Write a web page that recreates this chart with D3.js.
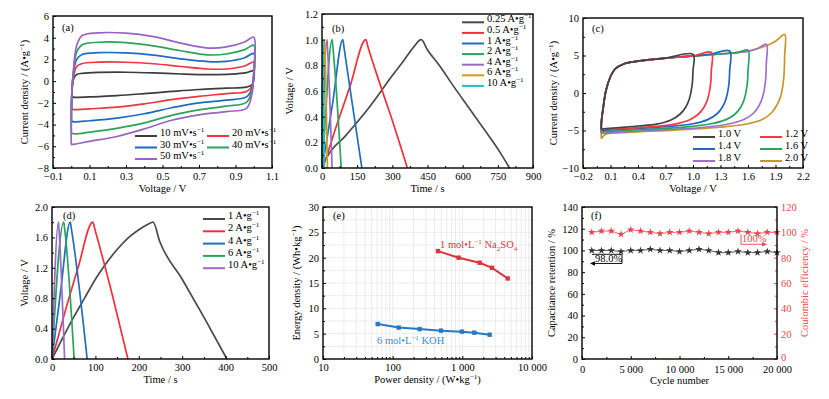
<!DOCTYPE html>
<html>
<head>
<meta charset="utf-8">
<script src="https://cdn.jsdelivr.net/npm/d3@7"></script>
<style>
  body { margin: 0; background: #fff; }
  svg, svg text { font-family: "Liberation Serif", "DejaVu Serif", serif; }
</style>
</head>
<body>
<script>
// ---- data: (a) CV of electrode at different scan rates, [V, A/g] loops
var rateNamesA = ["10", "20", "30", "40", "50"];
var cvA10 = [[0.005,-1.45],[0.005,-0.6],[0.015,0.3],[0.03,0.62],[0.06,0.72],[0.15,0.8],[0.3,0.82],[0.45,0.76],[0.6,0.66],[0.75,0.6],[0.88,0.64],[0.96,0.78],[1.0,0.95],[1.0,0.2],[0.99,-0.35],[0.96,-0.55],[0.85,-0.65],[0.7,-0.77],[0.55,-0.95],[0.4,-1.15],[0.25,-1.33],[0.1,-1.45],[0.02,-1.5],[0.005,-1.45]];
var cvA20 = [[0.003,-2.6],[0.003,-1.2],[0.012,0.4],[0.03,1.35],[0.06,1.62],[0.15,1.75],[0.3,1.74],[0.45,1.6],[0.6,1.35],[0.75,1.12],[0.85,1.12],[0.95,1.4],[1.0,1.75],[1.0,0.4],[0.99,-0.5],[0.96,-0.95],[0.85,-1.15],[0.7,-1.4],[0.55,-1.7],[0.4,-2.1],[0.25,-2.4],[0.1,-2.55],[0.02,-2.62],[0.003,-2.6]];
var cvA30 = [[0.002,-3.7],[0.002,-1.8],[0.01,0.5],[0.03,2.0],[0.06,2.45],[0.15,2.62],[0.3,2.6],[0.45,2.4],[0.6,2.05],[0.75,1.8],[0.85,1.82],[0.95,2.15],[1.0,2.55],[1.0,0.6],[0.99,-0.7],[0.96,-1.45],[0.85,-1.75],[0.7,-2.0],[0.55,-2.45],[0.4,-3.0],[0.25,-3.4],[0.1,-3.65],[0.02,-3.75],[0.002,-3.7]];
var cvA40 = [[0.001,-4.8],[0.001,-2.2],[0.01,0.5],[0.03,2.7],[0.06,3.35],[0.15,3.58],[0.3,3.55],[0.45,3.25],[0.6,2.8],[0.75,2.42],[0.85,2.5],[0.95,2.9],[1.0,3.3],[1.0,0.8],[0.99,-0.9],[0.96,-1.95],[0.85,-2.3],[0.7,-2.65],[0.55,-3.15],[0.4,-3.85],[0.25,-4.35],[0.1,-4.7],[0.02,-4.85],[0.001,-4.8]];
var cvA50 = [[0,-5.85],[0,-2.5],[0.01,0.5],[0.03,3.3],[0.06,4.2],[0.15,4.45],[0.3,4.42],[0.45,4.1],[0.6,3.5],[0.75,3.05],[0.85,3.15],[0.95,3.6],[1.0,4.05],[1.0,1.0],[0.99,-1.2],[0.96,-2.5],[0.85,-2.8],[0.7,-3.1],[0.55,-3.6],[0.4,-4.4],[0.25,-5.1],[0.1,-5.55],[0.02,-5.8],[0,-5.85]];

// ---- (b) GCD of electrode, [s, V]
var currentNamesB = ["0.25", "0.5", "1", "2", "4", "6", "10"];
var gcdB025 = [[0,0],[20,0.08],[100,0.25],[200,0.47],[300,0.72],[350,0.84],[390,0.94],[423,1.0],[450,0.92],[500,0.8],[560,0.64],[630,0.46],[700,0.28],[760,0.12],[800,0]];
var gcdB05 = [[0,0],[5,0.02],[60,0.32],[120,0.64],[187,1.0],[195,0.95],[250,0.64],[300,0.37],[364,0]];
var gcdB1 = [[0,0],[2,0.02],[45,0.5],[89,1.0],[93,0.95],[130,0.49],[170,0]];
var gcdB2 = [[0,0],[1,0.02],[43,1.0],[46,0.95],[82,0]];
var gcdB4 = [[0,0],[21,1.0],[23,0.95],[43,0]];
var gcdB6 = [[0,0],[10,1.0],[12,0.95],[23,0]];
var gcdB10 = [[0,0],[4,1.0],[5,0.95],[10,0]];

// ---- (c) CV of device at different voltage windows
var windowNamesC = ["1.0", "1.2", "1.4", "1.6", "1.8", "2.0"];
var cvC10 = [[0,-4.8],[0,-4.0],[0.02,-2.0],[0.05,0.3],[0.1,2.2],[0.15,3.2],[0.25,3.9],[0.4,4.25],[0.7,4.65],[1.0,5.15],[1.0,3.0],[0.99,1.0],[0.96,-0.8],[0.92,-1.9],[0.86,-2.8],[0.76,-3.6],[0.6,-4.15],[0.4,-4.4],[0.2,-4.6],[0.05,-4.75],[0,-4.8]];
var cvC12 = [[0,-4.9],[0,-4.0],[0.02,-2.0],[0.05,0.3],[0.1,2.2],[0.15,3.2],[0.25,3.9],[0.4,4.25],[0.7,4.65],[1.0,4.95],[1.2,5.4],[1.2,3.0],[1.19,1.0],[1.16,-0.8],[1.12,-1.9],[1.06,-2.8],[0.96,-3.6],[0.8,-4.15],[0.6,-4.45],[0.3,-4.7],[0.05,-4.85],[0,-4.9]];
var cvC14 = [[0,-5.0],[0,-4.0],[0.02,-2.0],[0.05,0.3],[0.1,2.2],[0.15,3.2],[0.25,3.9],[0.4,4.25],[0.7,4.65],[1.0,4.95],[1.2,5.2],[1.4,5.6],[1.4,3.0],[1.39,1.0],[1.36,-0.8],[1.32,-1.9],[1.26,-2.8],[1.16,-3.55],[1.0,-4.1],[0.7,-4.5],[0.35,-4.75],[0.05,-4.95],[0,-5.0]];
var cvC16 = [[0,-5.2],[0,-4.0],[0.02,-2.0],[0.05,0.3],[0.1,2.2],[0.15,3.2],[0.25,3.9],[0.4,4.25],[0.7,4.65],[1.0,4.95],[1.3,5.2],[1.5,5.45],[1.6,5.7],[1.6,3.0],[1.59,1.0],[1.56,-0.8],[1.52,-1.9],[1.46,-2.8],[1.36,-3.55],[1.2,-4.1],[0.9,-4.55],[0.5,-4.85],[0.05,-5.15],[0,-5.2]];
var cvC18 = [[0,-5.4],[0,-4.0],[0.02,-2.0],[0.05,0.3],[0.1,2.2],[0.15,3.2],[0.25,3.9],[0.4,4.25],[0.7,4.65],[1.0,4.95],[1.3,5.2],[1.6,5.55],[1.7,5.9],[1.8,6.5],[1.8,4.0],[1.79,1.5],[1.76,-0.5],[1.72,-1.7],[1.66,-2.7],[1.56,-3.5],[1.4,-4.1],[1.1,-4.6],[0.6,-4.95],[0.05,-5.35],[0,-5.4]];
var cvC20 = [[0,-6.1],[0,-4.0],[0.02,-2.0],[0.05,0.3],[0.1,2.2],[0.15,3.2],[0.25,3.9],[0.4,4.25],[0.7,4.65],[1.0,4.95],[1.3,5.2],[1.6,5.6],[1.8,6.3],[1.9,6.9],[2.0,7.8],[2.0,5.0],[1.99,2.0],[1.96,-0.3],[1.92,-1.5],[1.86,-2.6],[1.76,-3.5],[1.6,-4.1],[1.3,-4.55],[0.8,-4.95],[0.3,-5.25],[0.05,-5.5],[0,-6.1]];

// ---- (d) GCD of device, [s, V]
var currentNamesD = ["1", "2", "4", "6", "10"];
var gcdD1 = [[0,0],[25,0.28],[50,0.55],[75,0.8],[100,1.05],[125,1.26],[150,1.44],[175,1.59],[200,1.7],[220,1.77],[233,1.8],[248,1.55],[300,1.05],[350,0.55],[403,0]];
var gcdD2 = [[0,0],[30,0.62],[60,1.2],[94,1.8],[100,1.68],[140,0.82],[175,0]];
var gcdD4 = [[0,0],[20,0.9],[42,1.8],[45,1.7],[81,0]];
var gcdD6 = [[0,0],[27,1.8],[29,1.72],[51,0]];
var gcdD10 = [[0,0],[15,1.8],[16,1.72],[29,0]];

// ---- (e) Ragone plot, power W/kg vs energy Wh/kg
var powerNa = [447, 885, 1774, 2666, 4478];
var energyNa = [21.3, 20.0, 19.0, 18.0, 15.9];
var powerKOH = [61, 122, 244, 494, 989, 1486, 2466];
var energyKOH = [6.9, 6.2, 5.9, 5.6, 5.4, 5.2, 4.8];

// ---- (f) cycling
var cycles = [1000,2000,3000,4000,5000,6000,7000,8000,9000,10000,11000,12000,13000,14000,15000,16000,17000,18000,19000,20000];
var retention = [100,100,100,99,100,100,101,100,100,99,100,101,100,98,98,99,98,98,99,98];
var coulombic = [100,101,101,98.5,102,101,100,99,100,100,101,100,99,100,100,101,100,99,100,100];

var FS = 10.5;
var FONT = "'Liberation Serif', 'DejaVu Serif', serif";
var svg = d3.select("body").append("svg")
    .attr("width", 829)
    .attr("height", 399)
    .attr("font-family", FONT);

// superscript / subscript aware text
function rich(t, parts, fs) {
  var shift = 0;
  t.attr("font-family", FONT);
  parts.forEach(function(p) {
    var s = p[0], k = p[1];
    var target = k === "sup" ? -0.38 * fs : (k === "sub" ? 0.25 * fs : 0);
    t.append("tspan")
        .attr("dy", target - shift)
        .attr("font-size", k ? fs * 0.68 : fs)
        .text(s);
    shift = target;
  });
  return t;
}

function styleAxis(sel) {
  sel.select(".domain").remove();
  sel.attr("font-family", FONT).attr("font-size", FS);
  sel.selectAll("line").attr("stroke", "#000");
  sel.selectAll("text").attr("fill", "#000");
}

function xAxis(g, x, y0, ticks, fmt, minor, pad) {
  g.append("g")
      .attr("transform", `translate(0,${y0})`)
      .call(d3.axisBottom(x).tickValues(ticks).tickFormat(fmt)
          .tickSizeInner(-3).tickSizeOuter(0).tickPadding(pad || 5))
      .call(styleAxis);
  if (minor) {
    g.append("g")
        .attr("transform", `translate(0,${y0})`)
        .call(d3.axisBottom(x).tickValues(minor).tickFormat("")
            .tickSizeInner(-2).tickSizeOuter(0))
        .call(styleAxis);
  }
}

function yAxis(g, y, x0, ticks, fmt, minor, right, color) {
  var ax = right ? d3.axisRight(y) : d3.axisLeft(y);
  var a = g.append("g")
      .attr("transform", `translate(${x0},0)`)
      .call(ax.tickValues(ticks).tickFormat(fmt)
          .tickSizeInner(-3).tickSizeOuter(0).tickPadding(4))
      .call(styleAxis);
  if (color) {
    a.selectAll("line").attr("stroke", color);
    a.selectAll("text").attr("fill", color);
  }
  if (minor) {
    var ax2 = right ? d3.axisRight(y) : d3.axisLeft(y);
    var m = g.append("g")
        .attr("transform", `translate(${x0},0)`)
        .call(ax2.tickValues(minor).tickFormat("")
            .tickSizeInner(-2).tickSizeOuter(0))
        .call(styleAxis);
    if (color) m.selectAll("line").attr("stroke", color);
  }
  return a;
}

function frame(g, x, y) {
  var r = x.range(), s = y.range();
  g.append("rect")
      .attr("x", r[0]).attr("y", s[1])
      .attr("width", r[1] - r[0]).attr("height", s[0] - s[1])
      .attr("fill", "none")
      .attr("stroke", "#000")
      .attr("stroke-width", 1.4);
}

function yTitle(g, cx, cy, parts, color) {
  var t = g.append("text")
      .attr("transform", `translate(${cx},${cy}) rotate(-90)`)
      .attr("text-anchor", "middle")
      .attr("dy", "0.35em")
      .attr("font-size", FS)
      .attr("fill", color || "#000");
  rich(t, parts, FS);
}

function xTitle(g, cx, cy, parts) {
  var t = g.append("text")
      .attr("x", cx).attr("y", cy)
      .attr("text-anchor", "middle")
      .attr("font-size", FS);
  rich(t, parts, FS);
}

function panelLabel(g, x, y, s) {
  g.append("text").attr("x", x).attr("y", y)
      .attr("font-family", FONT)
      .attr("font-size", 10.5).text(s);
}

function curves(g, x, y, series, colors, curve) {
  var line = d3.line()
      .x(function(d) { return x(d[0]); })
      .y(function(d) { return y(d[1]); })
      .curve(curve || d3.curveLinear);
  g.selectAll(null)
      .data(series)
      .enter().append("path")
          .attr("d", line)
          .attr("fill", "none")
          .attr("stroke", function(d, i) { return colors[i]; })
          .attr("stroke-width", 1.7)
          .attr("stroke-linejoin", "round");
}

// legend: items [{parts, color}], positions of each row/col given
function legend(g, items, pos, lineLen) {
  items.forEach(function(it, i) {
    var p = pos[i];
    g.append("line")
        .attr("x1", p[0]).attr("x2", p[0] + lineLen)
        .attr("y1", p[1]).attr("y2", p[1])
        .attr("stroke", it.color).attr("stroke-width", 2);
    var t = g.append("text")
        .attr("x", p[0] + lineLen + 3).attr("y", p[1])
        .attr("dy", "0.35em")
        .attr("font-size", 10.5);
    rich(t, it.parts, 10.5);
  });
}

var fmt1 = d3.format(".1f");
var fmtD = d3.format("d");
var thousands = function(d) {
  return d >= 1000 ? (d / 1000) + " 000" : String(d);
};
var cvCurve = d3.curveCatmullRom.alpha(0.5);

// ===================== (a) =====================
var colA = ["#3d3d3d", "#ee3540", "#1f6bbf", "#2ba35a", "#9a62c4"];
var xA = d3.scaleLinear().domain([-0.1, 1.1]).range([53, 272]);
var yA = d3.scaleLinear().domain([-8, 6]).range([168, 16]);
var gA = svg.append("g");
curves(gA, xA, yA, [cvA10, cvA20, cvA30, cvA40, cvA50], colA, cvCurve);
xAxis(gA, xA, 168, d3.range(-0.1, 1.15, 0.2), fmt1, d3.range(0, 1.05, 0.2));
yAxis(gA, yA, 53, d3.range(-8, 7, 2), fmtD, d3.range(-7, 6, 2));
frame(gA, xA, yA);
panelLabel(gA, 62, 31, "(a)");
yTitle(gA, 28, 92, [["Current density / (A•g"], ["−1", "sup"], [")"]]);
xTitle(gA, 162.5, 192, [["Voltage / V"]]);
legend(gA, rateNamesA.map(function(r, i) {
  return {color: colA[i], parts: [[r + " mV•s"], ["−1", "sup"]]};
}), [[135, 136], [207, 136], [135, 147.5], [207, 147.5], [135, 159]], 22);

// ===================== (b) =====================
var colB = ["#4a4a4a", "#f0303a", "#1f6fbf", "#2ca25f", "#9b6bc6", "#d49a1c", "#1fc0c4"];
var xB = d3.scaleLinear().domain([0, 900]).range([322, 533]);
var yB = d3.scaleLinear().domain([0, 1.2]).range([168, 14]);
var gB = svg.append("g");
curves(gB, xB, yB, [gcdB025, gcdB05, gcdB1, gcdB2, gcdB4, gcdB6, gcdB10], colB, d3.curveMonotoneX);
xAxis(gB, xB, 168, d3.range(0, 901, 150), fmtD, d3.range(75, 900, 150));
yAxis(gB, yB, 322, d3.range(0, 1.25, 0.2), fmt1, d3.range(0.1, 1.2, 0.2));
frame(gB, xB, yB);
panelLabel(gB, 332, 32, "(b)");
yTitle(gB, 293, 91, [["Voltage / V"]]);
xTitle(gB, 427.5, 192, [["Time / s"]]);
legend(gB, currentNamesB.map(function(r, i) {
  return {color: colB[i], parts: [[r + " A•g"], ["−1", "sup"]]};
}), currentNamesB.map(function(r, i) { return [462, 22.3 + 10.6 * i]; }), 22);

// ===================== (c) =====================
var colC = ["#444444", "#f03a45", "#1f68c0", "#2aa45c", "#a070d0", "#c8962a"];
var xC = d3.scaleLinear().domain([-0.2, 2.2]).range([583, 803]);
var yC = d3.scaleLinear().domain([-10, 10]).range([168, 18]);
var gC = svg.append("g");
curves(gC, xC, yC, [cvC20, cvC18, cvC16, cvC14, cvC12, cvC10],
    [colC[5], colC[4], colC[3], colC[2], colC[1], colC[0]], cvCurve);
xAxis(gC, xC, 168, [-0.2, 0.1, 0.4, 0.7, 1.0, 1.3, 1.6, 1.9, 2.2], fmt1,
    [-0.05, 0.25, 0.55, 0.85, 1.15, 1.45, 1.75, 2.05]);
yAxis(gC, yC, 583, [-10, -5, 0, 5, 10], fmtD, [-7.5, -2.5, 2.5, 7.5]);
frame(gC, xC, yC);
panelLabel(gC, 592, 32, "(c)");
yTitle(gC, 557, 93, [["Current density / (A•g"], ["−1", "sup"], [")"]]);
xTitle(gC, 693, 192, [["Voltage / V"]]);
legend(gC, windowNamesC.map(function(r, i) {
  return {color: colC[i], parts: [[r + " V"]]};
}), [[693, 137], [760, 137], [693, 149], [760, 149], [693, 161], [760, 161]], 22);

// ===================== (d) =====================
var colD = ["#4a4a4a", "#f0303a", "#1f6fbf", "#2ca25f", "#9b6bc6"];
var xD = d3.scaleLinear().domain([0, 500]).range([52, 269]);
var yD = d3.scaleLinear().domain([0, 2.0]).range([359, 207]);
var gD = svg.append("g");
curves(gD, xD, yD, [gcdD1, gcdD2, gcdD4, gcdD6, gcdD10], colD, d3.curveMonotoneX);
xAxis(gD, xD, 359, d3.range(0, 501, 100), fmtD, d3.range(50, 500, 100));
yAxis(gD, yD, 52, d3.range(0, 2.01, 0.4), fmt1, d3.range(0.2, 2.0, 0.4));
frame(gD, xD, yD);
panelLabel(gD, 63, 219, "(d)");
yTitle(gD, 28, 283, [["Voltage / V"]]);
xTitle(gD, 160.5, 383, [["Time / s"]]);
legend(gD, currentNamesD.map(function(r, i) {
  return {color: colD[i], parts: [[r + " A•g"], ["−1", "sup"]]};
}), currentNamesD.map(function(r, i) { return [203, 219 + 12.3 * i]; }), 22);

// ===================== (e) =====================
var xE = d3.scaleLog().domain([10, 10000]).range([323, 532]);
var yE = d3.scaleLinear().domain([0, 30]).range([359, 207]);
var gE = svg.append("g");
var minorE = [];
[10, 100, 1000].forEach(function(dec) {
  for (var k = 2; k <= 9; k++) minorE.push(dec * k);
});
gE.selectAll(null).data(minorE.concat([100, 1000])).enter().append("line")
    .attr("x1", function(d) { return xE(d); }).attr("x2", function(d) { return xE(d); })
    .attr("y1", 207).attr("y2", 359)
    .attr("stroke", "#e4e4e4").attr("stroke-width", 0.7);
gE.selectAll(null).data(d3.range(2.5, 30, 2.5)).enter().append("line")
    .attr("x1", 323).attr("x2", 532)
    .attr("y1", function(d) { return yE(d); }).attr("y2", function(d) { return yE(d); })
    .attr("stroke", "#e4e4e4").attr("stroke-width", 0.7);
xAxis(gE, xE, 359, [10, 100, 1000, 10000], thousands, minorE);
yAxis(gE, yE, 323, d3.range(0, 31, 5), fmtD, d3.range(2.5, 30, 5));
var ragone = [
  {power: powerNa, energy: energyNa, color: "#d9363e"},
  {power: powerKOH, energy: energyKOH, color: "#2a78c0"}
];
ragone.forEach(function(s) {
  var pts = s.power.map(function(p, i) { return [p, s.energy[i]]; });
  gE.append("path")
      .attr("d", d3.line().x(function(d) { return xE(d[0]); }).y(function(d) { return yE(d[1]); })(pts))
      .attr("fill", "none").attr("stroke", s.color).attr("stroke-width", 2);
  gE.selectAll(null).data(pts).enter().append("rect")
      .attr("x", function(d) { return xE(d[0]) - 2.2; })
      .attr("y", function(d) { return yE(d[1]) - 2.2; })
      .attr("width", 4.4).attr("height", 4.4)
      .attr("fill", s.color);
});
frame(gE, xE, yE);
panelLabel(gE, 333, 219, "(e)");
rich(gE.append("text").attr("x", 440).attr("y", 248).attr("font-size", 10.5).attr("fill", "#d9363e"),
    [["1 mol•L"], ["−1", "sup"], [" Na"], ["2", "sub"], ["SO"], ["4", "sub"]], 10.5);
rich(gE.append("text").attr("x", 377).attr("y", 344).attr("font-size", 10.5).attr("fill", "#3a8fd6"),
    [["6 mol•L"], ["−1", "sup"], [" KOH"]], 10.5);
yTitle(gE, 300, 283, [["Energy density / (Wh•kg"], ["−1", "sup"], [")"]]);
xTitle(gE, 427.5, 383, [["Power density / (W•kg"], ["−1", "sup"], [")"]]);

// ===================== (f) =====================
var redF = "#e8454d";
var xF = d3.scaleLinear().domain([0, 20000]).range([582, 777]);
var yF = d3.scaleLinear().domain([0, 140]).range([359, 207]);
var yF2 = d3.scaleLinear().domain([0, 120]).range([359, 207]);
var gF = svg.append("g");
xAxis(gF, xF, 359, d3.range(0, 20001, 5000), thousands, d3.range(2500, 20000, 5000), 7);
yAxis(gF, yF, 582, d3.range(0, 141, 20), fmtD, d3.range(10, 140, 20));
var rightAx = yAxis(gF, yF2, 777, d3.range(0, 121, 20), fmtD, d3.range(10, 120, 20), true, redF);
// lift the bottom right label a bit so it clears "20 000"
rightAx.selectAll(".tick text").filter(function(d) { return d === 0; }).attr("dy", "0.1em");
var star = d3.symbol().type(d3.symbolStar).size(18);
[
  {vals: retention, y: yF, color: "#333333"},
  {vals: coulombic, y: yF2, color: redF}
].forEach(function(s) {
  var pts = cycles.map(function(c, i) { return [c, s.vals[i]]; });
  gF.append("path")
      .attr("d", d3.line().x(function(d) { return xF(d[0]); }).y(function(d) { return s.y(d[1]); })(pts))
      .attr("fill", "none").attr("stroke", s.color).attr("stroke-width", 0.8);
  gF.selectAll(null).data(pts).enter().append("path")
      .attr("d", star)
      .attr("transform", function(d) { return `translate(${xF(d[0])},${s.y(d[1])})`; })
      .attr("fill", s.color);
});
// annotations
gF.append("path")
    .attr("d", "M592,254.3 H622 V263.5 H594")
    .attr("fill", "none").attr("stroke", "#000").attr("stroke-width", 0.9);
gF.append("path").attr("d", "M590,263.5 l5,-2.2 v4.4 z").attr("fill", "#000");
gF.append("text").attr("x", 595).attr("y", 262).attr("font-family", FONT).attr("font-size", 10.5).text("98.0%");
gF.append("path")
    .attr("d", "M741,234.3 V244.3 H763")
    .attr("fill", "none").attr("stroke", redF).attr("stroke-width", 0.9);
gF.append("path").attr("d", "M767,244.3 l-5,-2.2 v4.4 z").attr("fill", redF);
gF.append("text").attr("x", 742).attr("y", 242).attr("font-family", FONT).attr("font-size", 10.5).attr("fill", redF).text("100%");
frame(gF, xF, yF);
panelLabel(gF, 591, 219, "(f)");
yTitle(gF, 555, 283, [["Capacitance retention / %"]]);
yTitle(gF, 808, 283, [["Coulombic efficiency / %"]], redF);
xTitle(gF, 679.5, 384, [["Cycle number"]]);
</script>
</body>
</html>
